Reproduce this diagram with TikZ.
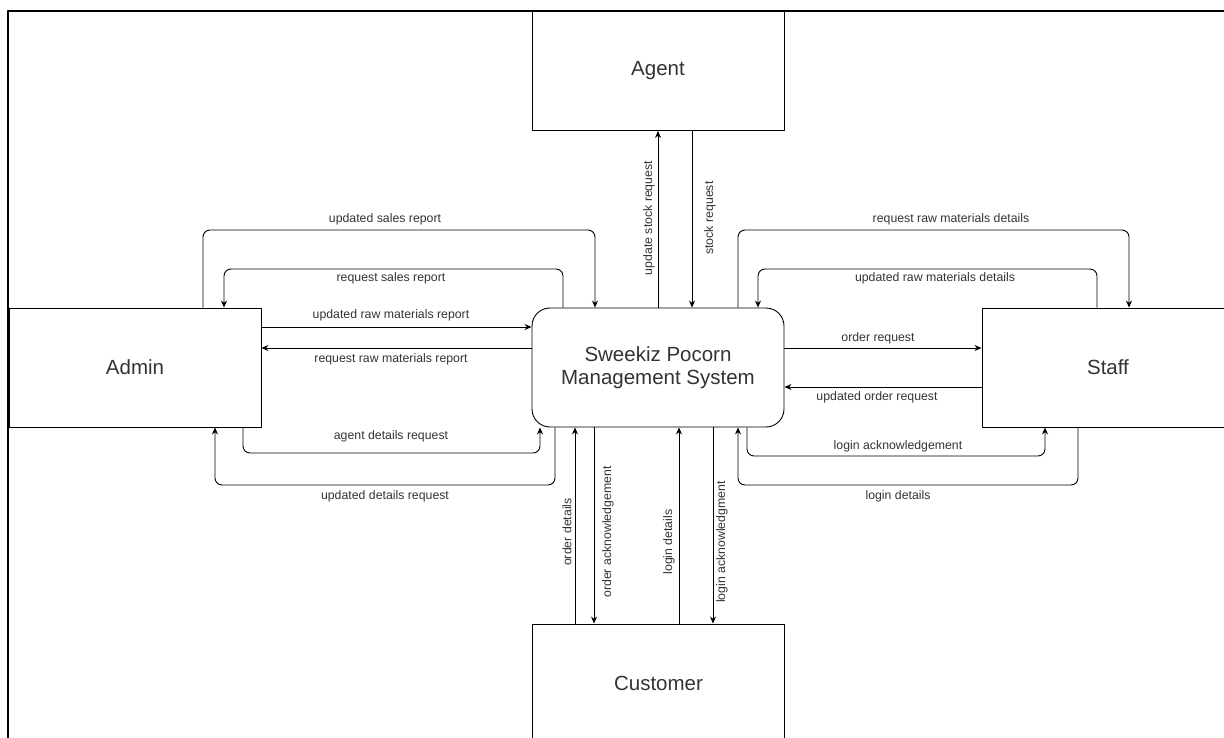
\documentclass[tikz,border=0pt]{standalone}
\usepackage{fontspec}
\setmainfont{Liberation Sans}
\usetikzlibrary{arrows.meta}

\begin{document}
\begin{tikzpicture}[
        x = 1pt, y = -1pt,
        line join=round,
        entity/.style = {draw, line width=0.9pt, minimum width=252pt, minimum height=119pt, inner sep=0pt, align=center, text=black!80, font=\fontsize{20.5}{23.5}\selectfont},
        process/.style = {entity, rounded corners=18pt},
        flow/.style = {line width=0.9pt, rounded corners=7pt, -{Stealth[length=7pt, width=6pt]}},
        lbl/.style = {inner sep=0pt, text=black!80, font=\fontsize{12.3}{14}\selectfont}
    ]

    \useasboundingbox (0,0) rectangle (1224,738);

    \draw[line width=2.5pt] (8,738) -- (8,11) -- (1224,11);

    \node[entity] (admin) at (135, 367.5) {Admin};
    \node[process] (sys) at (658, 367.5) {Sweekiz Pocorn\\Management System};
    \node[entity] (agent) at (658, 71) {Agent};
    \node[entity] (staff) at (1108, 367.5) {Staff};
    \node[entity] (cust) at (658.5, 683.5) {Customer};

    % agent
    \draw[flow] (sys.north) -- (agent.south);
    \draw[flow] (agent.south -| 692,0) -- (sys.north -| 692,0);
    \node[lbl, rotate=90] at (649, 218) {update stock request};
    \node[lbl, rotate=90] at (710, 218) {stock request};

    % admin
    \draw[flow] (admin.north -| 203,0) -- (203,230) -| (sys.north -| 595,0);
    \draw[flow] (sys.north -| 563,0) -- (563,269) -| (admin.north -| 224,0);
    \draw[flow] (admin.east |- 0,327) -- (sys.west |- 0,327);
    \draw[flow] (sys.west |- 0,348) -- (admin.east |- 0,348);
    \draw[flow] (admin.south -| 243,0) -- (243,453) -| (sys.south -| 540,0);
    \draw[flow] (sys.south -| 555,0) -- (555,485) -| (admin.south -| 215,0);

    \node[lbl] at (385, 219) {updated sales report};
    \node[lbl] at (391, 278) {request sales report};
    \node[lbl] at (391, 315) {updated raw materials report};
    \node[lbl] at (391, 359) {request raw materials report};
    \node[lbl] at (391, 436) {agent details request};
    \node[lbl] at (385, 496) {updated details request};

    % staff
    \draw[flow] (sys.north -| 738,0) -- (738,230) -| (staff.north -| 1129,0);
    \draw[flow] (staff.north -| 1097,0) -- (1097,269) -| (sys.north -| 758,0);
    \draw[flow] (sys.east |- 0,348) -- (staff.west |- 0,348);
    \draw[flow] (staff.west |- 0,387) -- (sys.east |- 0,387);
    \draw[flow] (sys.south -| 747,0) -- (747,456) -| (staff.south -| 1045,0);
    \draw[flow] (staff.south -| 1078,0) -- (1078,485) -| (sys.south -| 738,0);

    \node[lbl] at (951, 219) {request raw materials details};
    \node[lbl] at (935, 278) {updated raw materials details};
    \node[lbl] at (878, 338) {order request};
    \node[lbl] at (877, 397) {updated order request};
    \node[lbl] at (898, 446) {login acknowledgement};
    \node[lbl] at (898, 496) {login details};

    % customer
    \draw[flow] (cust.north -| 575,0) -- (sys.south -| 575,0);
    \draw[flow] (sys.south -| 594,0) -- (cust.north -| 594,0);
    \draw[flow] (cust.north -| 679,0) -- (sys.south -| 679,0);
    \draw[flow] (sys.south -| 713,0) -- (cust.north -| 713,0);

    \node[lbl, rotate=90] at (567, 532) {order details};
    \node[lbl, rotate=90] at (608, 532) {order acknowledgement};
    \node[lbl, rotate=90] at (669, 542) {login details};
    \node[lbl, rotate=90] at (722, 542) {login acknowledgment};

\end{tikzpicture}
\end{document}
